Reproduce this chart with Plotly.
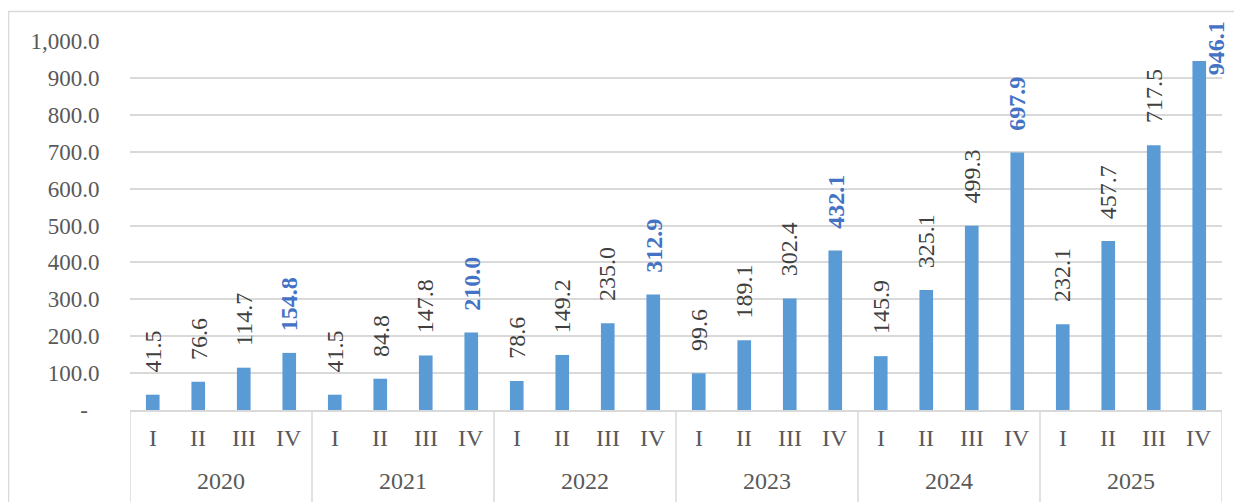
import plotly.graph_objects as go

years = ["2020", "2021", "2022", "2023", "2024", "2025"]
quarters = ["I", "II", "III", "IV"]
values = [41.5, 76.6, 114.7, 154.8,
          41.5, 84.8, 147.8, 210.0,
          78.6, 149.2, 235.0, 312.9,
          99.6, 189.1, 302.4, 432.1,
          145.9, 325.1, 499.3, 697.9,
          232.1, 457.7, 717.5, 946.1]
tick_vals = [0, 100, 200, 300, 400, 500, 600, 700, 800, 900, 1000]
tick_text = ["-\u00a0\u00a0", "100.0", "200.0", "300.0", "400.0", "500.0",
             "600.0", "700.0", "800.0", "900.0", "1,000.0"]

# page body has an 8px margin, so the figure starts at (8, 8) on screen
OFF = 8
W, H = 1242 - OFF, 502 - OFF
L, R, T, B = 130 - OFF, 20, 41 - OFF, 92
PW, PH = W - L - R, H - T - B

BAR = "#5B9BD5"
TXT = "#595959"
LBL = "#404040"
BLUE = "#4472C4"
GRID = "#D9D9D9"
FONT = "Liberation Serif"

xs = [i + 0.5 for i in range(len(values))]

fig = go.Figure()
fig.add_trace(go.Bar(x=xs, y=values, width=0.3, marker_color=BAR,
                     marker_line_width=0, hoverinfo="skip"))

def py(screen_y):
    return (H - B - (screen_y - OFF)) / PH

def px_(screen_x):
    return (screen_x - OFF - L) / PW

anns = []
shapes = []
for i, v in enumerate(values):
    q = i % 4
    is_iv = q == 3
    color = BLUE if is_iv else LBL
    txt = f"<b>{v:.1f}</b>" if is_iv else f"{v:.1f}"
    if v > 900:
        anns.append(dict(x=xs[i], y=1000, xref="x", yref="y", text=txt,
                         textangle=-90, showarrow=False, xanchor="center",
                         yanchor="top", xshift=17, yshift=22,
                         font=dict(family=FONT, size=24, color=color)))
    else:
        anns.append(dict(x=xs[i], y=v, xref="x", yref="y", text=txt,
                         textangle=-90, showarrow=False, xanchor="center",
                         yanchor="bottom", yshift=20,
                         font=dict(family=FONT, size=24, color=color)))
    anns.append(dict(x=xs[i], y=py(438), xref="x", yref="paper",
                     text=quarters[q], showarrow=False, xanchor="center",
                     yanchor="middle",
                     font=dict(family=FONT, size=24, color=TXT)))

for k, yr in enumerate(years):
    anns.append(dict(x=k * 4 + 2, y=py(481), xref="x", yref="paper",
                     text=yr, showarrow=False, xanchor="center",
                     yanchor="middle",
                     font=dict(family=FONT, size=24, color=TXT)))

for k in range(len(years) + 1):
    shapes.append(dict(type="line", xref="x", yref="paper",
                       x0=k * 4, x1=k * 4, y0=0, y1=py(520),
                       line=dict(color=GRID, width=1.5)))

# outer chart frame
shapes.append(dict(type="rect", xref="paper", yref="paper",
                   x0=px_(8.5), x1=px_(1270), y0=py(11.5), y1=py(540),
                   line=dict(color=GRID, width=1.5), layer="below"))

fig.update_layout(
    width=W, height=H,
    margin=dict(l=L, r=R, t=T, b=B, autoexpand=False),
    paper_bgcolor="white", plot_bgcolor="white",
    showlegend=False,
    annotations=anns, shapes=shapes,
    xaxis=dict(range=[0, 24], showticklabels=False, showgrid=False,
               zeroline=False, showline=True, linecolor=GRID, linewidth=1.5,
               fixedrange=True),
    yaxis=dict(range=[0, 1000], tickvals=tick_vals, ticktext=tick_text,
               showgrid=True, gridcolor=GRID, gridwidth=1.5, zeroline=False,
               showline=False, ticks="outside", ticklen=25,
               tickcolor="rgba(0,0,0,0)",
               tickfont=dict(family=FONT, size=23, color=TXT),
               fixedrange=True),
    bargap=0.7,
)

fig.write_html("out.html")
